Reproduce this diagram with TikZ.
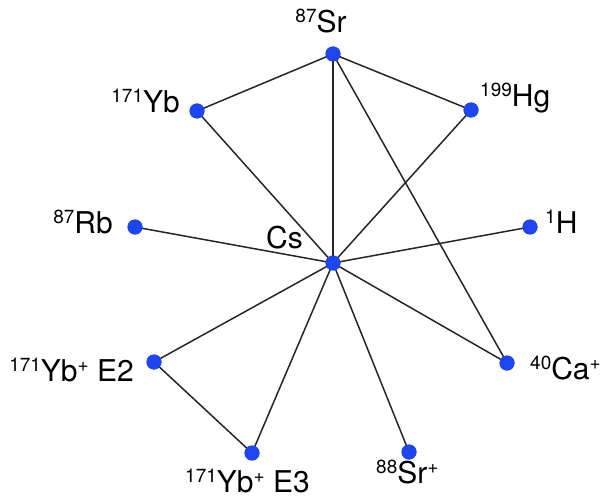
\documentclass[tikz,border=0pt]{standalone}
\usepackage{fontspec}
\setmainfont{TeX Gyre Heros}
\usepackage{xcolor}
\usepackage{tikz}
\usetikzlibrary{positioning}
\definecolor{dotblue}{RGB}{30,70,240}
\newcommand{\iso}[1]{\raisebox{10pt}{\fontsize{19}{19}\selectfont #1}}

\begin{document}
\begin{tikzpicture}[x=1pt, y=-1pt,
  dot/.style={circle, fill=dotblue, inner sep=0pt, minimum size=15pt},
  lbl/.style={inner sep=0pt, font=\fontsize{30}{33}\selectfont},
  edge/.style={line width=1.5pt, draw=black!85}]
\useasboundingbox (0,0) rectangle (601,497);
% clocks
\node[dot] (cs)  at (333,263) {};
\node[dot] (sr)  at (333,54)  {};
\node[dot] (yb)  at (197,111) {};
\node[dot] (hg)  at (471,110) {};
\node[dot] (rb)  at (135,227) {};
\node[dot] (h)   at (530,227) {};
\node[dot] (ybe2) at (154,362) {};
\node[dot] (ca)  at (507,363) {};
\node[dot] (ybe3) at (252,453) {};
\node[dot] (srp) at (409,452) {};
% links
\foreach \n in {sr,yb,hg,rb,h,ybe2,ca,ybe3,srp}
  \draw[edge] (cs.center) -- (\n.center);
\draw[edge] (sr.center) -- (yb.center);
\draw[edge] (sr.center) -- (hg.center);
\draw[edge] (sr.center) -- (ca.center);
\draw[edge] (ybe2.center) -- (ybe3.center);
% redraw dots on top
\foreach \n in {cs,sr,yb,hg,rb,h,ybe2,ca,ybe3,srp}
  \fill[dotblue] (\n) circle (7.5pt);
% labels
\node[lbl, anchor=base] (srl) at (321,33) {\iso{87}Sr};
\node[lbl, anchor=base east] (ybl) at (180,113) {\iso{171}Yb};
\node[lbl, anchor=base west] (hgl) at (480,107) {\iso{199}Hg};
\node[lbl, anchor=base east] (rbl) at (113,233) {\iso{87}Rb};
\node[lbl, anchor=base west] (hl) at (545,233) {\iso{1}H};
\node[lbl, anchor=base east] (csl) at (303,248) {Cs};
\node[lbl, anchor=base east] (ybe2l) at (134,381) {\iso{171}Yb\iso{+} E2};
\node[lbl, anchor=base west] (cal) at (530,379) {\iso{40}Ca\iso{+}};
\node[lbl, anchor=base west] (ybe3l) at (185,492) {\iso{171}Yb\iso{+} E3};
\node[lbl, anchor=base west] (srpl) at (376,483) {\iso{88}Sr\iso{+}};
\end{tikzpicture}
\end{document}
